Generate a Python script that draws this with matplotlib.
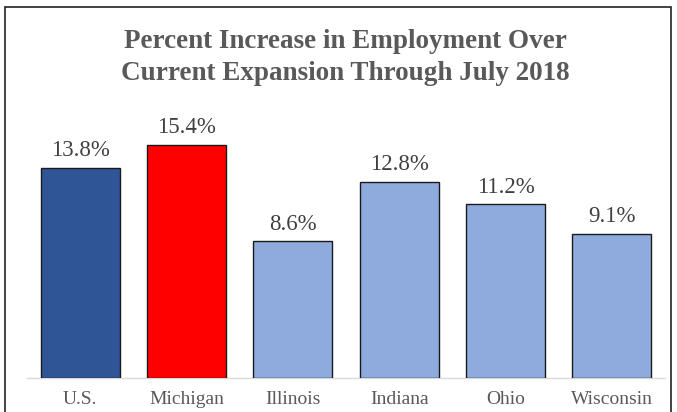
import matplotlib.pyplot as plt
from matplotlib.patches import Rectangle

# -------------------------------
# DATA
# -------------------------------
regions = ["U.S.", "Michigan", "Illinois", "Indiana", "Ohio", "Wisconsin"]
increase = [13.8, 15.4, 8.6, 12.8, 11.2, 9.1]
bar_colors = ["#2F5597", "#FF0000", "#8FAADC", "#8FAADC", "#8FAADC", "#8FAADC"]

plt.rcParams["font.family"] = ["Liberation Serif", "DejaVu Serif"]

# axis floor sits a little below zero, like the original sheet
y_min, y_max = -1, 17

# -------------------------------
# FIGURE
# -------------------------------
fig = plt.figure(figsize=(6.77, 4.12), dpi=100)
ax = fig.add_axes([27 / 677, 34 / 412, 638 / 677, 256 / 412])

x = range(len(regions))
heights = [v - y_min for v in increase]
bars = ax.bar(x, heights, bottom=y_min, width=0.745, color=bar_colors,
              edgecolor="#1a1a1a", linewidth=1.0, zorder=3)

for i, v in enumerate(increase):
    ax.annotate(f"{v:.1f}%", (i, v), xytext=(0, 5), textcoords="offset points",
                ha="center", va="bottom", fontsize=16.5, color="#404040")

ax.set_xlim(-0.5, len(regions) - 0.5)
ax.set_ylim(y_min, y_max)
ax.set_xticks(list(x))
ax.set_xticklabels(regions, fontsize=14, color="#595959")
ax.tick_params(axis="x", length=0, pad=9)
ax.set_yticks([])

for s in ["top", "right", "left"]:
    ax.spines[s].set_visible(False)
ax.spines["bottom"].set_color("#d9d9d9")
ax.spines["bottom"].set_linewidth(1.0)

fig.text(0.51, 1 - 41 / 412, "Percent Increase in Employment Over",
         ha="center", va="center", fontsize=19.5, fontweight="bold", color="#595959")
fig.text(0.51, 1 - 73 / 412, "Current Expansion Through July 2018",
         ha="center", va="center", fontsize=19.5, fontweight="bold", color="#595959")

# outer border
fig.patches.append(Rectangle((5 / 677, -0.02), 666 / 677, 1 - 7 / 412 + 0.02,
                             transform=fig.transFigure, fill=False,
                             edgecolor="#222222", linewidth=1.2))

fig.savefig("out.png", dpi=100)
